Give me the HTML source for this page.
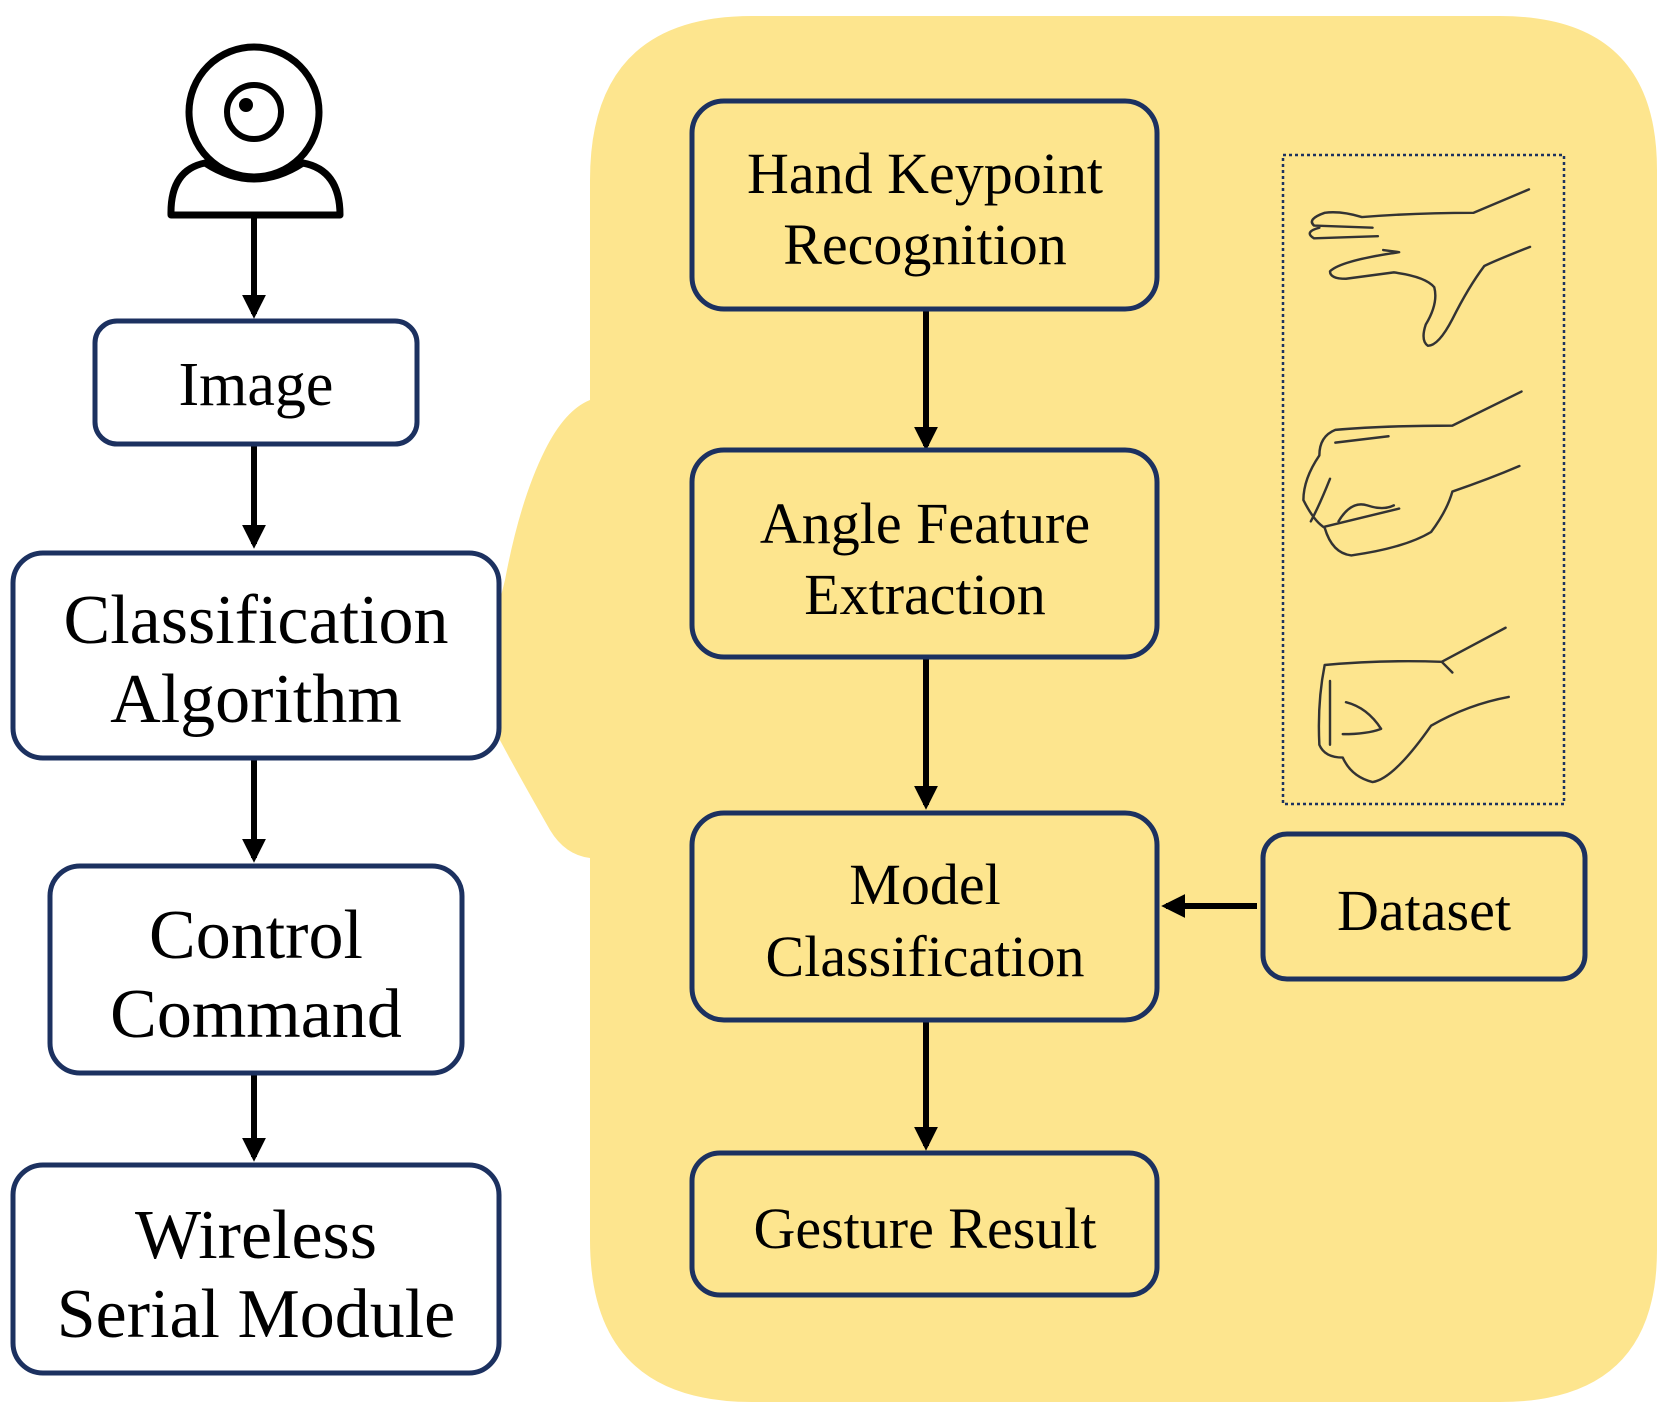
<!DOCTYPE html>
<html><head><style>
html,body{margin:0;padding:0;background:#fff;}
svg{display:block;}
text{font-family:"Liberation Serif",serif;fill:#000;text-anchor:middle;}
.b{fill:#fff;stroke:#1c3160;stroke-width:5;}
.y{fill:#fde58e;stroke:#1c3160;stroke-width:5;}
.a{stroke:#000;stroke-width:6;}
.h{fill:none;stroke:#333;stroke-width:2.3;stroke-linecap:round;stroke-linejoin:round;}
</style></head><body>
<svg width="1661" height="1419" viewBox="0 0 1661 1419" xmlns="http://www.w3.org/2000/svg">
<defs><marker id="m" viewBox="0 0 10 10" refX="8" refY="5" markerWidth="4" markerHeight="4" orient="auto"><path d="M0,0 L10,5 L0,10 z" fill="#000"/></marker></defs>
<path d="M752,16 L1500,16 Q1657,16 1657,170 L1657,1250 Q1657,1402 1500,1402 L752,1402 Q590,1402 590,1240 L590,858 Q565,855 550,830 Q510,760 492,725 Q480,700 479,683 Q490,640 505,580 Q520,500 545,450 Q565,410 590,400 L590,180 Q590,16 752,16 Z" fill="#fde58e"/>
<circle cx="254" cy="112" r="65" fill="#fff" stroke="#000" stroke-width="7"/>
<circle cx="254" cy="112" r="27" fill="#fff" stroke="#000" stroke-width="6"/>
<circle cx="246" cy="105" r="7" fill="#000"/>
<path d="M171,215 Q170,170 205,163 Q254,195 303,163 Q340,170 340,215 Z" fill="#fff" stroke="#000" stroke-width="7" stroke-linejoin="round"/>
<line class="a" x1="254" y1="215" x2="254" y2="314" marker-end="url(#m)"/>
<line class="a" x1="254" y1="444" x2="254" y2="544" marker-end="url(#m)"/>
<line class="a" x1="254" y1="758" x2="254" y2="858" marker-end="url(#m)"/>
<line class="a" x1="254" y1="1074" x2="254" y2="1157" marker-end="url(#m)"/>
<rect class="b" x="95" y="321" width="322" height="123" rx="22"/>
<text x="256" y="405" font-size="62">Image</text>
<rect class="b" x="13" y="553" width="486" height="205" rx="30"/>
<text x="256" y="643" font-size="70">Classification</text>
<text x="256" y="722" font-size="70">Algorithm</text>
<rect class="b" x="50" y="866" width="412" height="207" rx="30"/>
<text x="256" y="958" font-size="70">Control</text>
<text x="256" y="1037" font-size="70">Command</text>
<rect class="b" x="13" y="1165" width="486" height="208" rx="30"/>
<text x="256" y="1258" font-size="70">Wireless</text>
<text x="256" y="1337" font-size="70">Serial Module</text>
<line class="a" x1="926" y1="309" x2="926" y2="446" marker-end="url(#m)"/>
<line class="a" x1="926" y1="657" x2="926" y2="805" marker-end="url(#m)"/>
<line class="a" x1="926" y1="1020" x2="926" y2="1146" marker-end="url(#m)"/>
<line class="a" x1="1257" y1="906" x2="1166" y2="906" marker-end="url(#m)"/>
<rect class="y" x="692" y="101" width="465" height="208" rx="32"/>
<text x="925" y="193" font-size="58">Hand Keypoint</text>
<text x="925" y="264" font-size="58">Recognition</text>
<rect class="y" x="692" y="450" width="465" height="207" rx="32"/>
<text x="925" y="543" font-size="58">Angle Feature</text>
<text x="925" y="614" font-size="58">Extraction</text>
<rect class="y" x="692" y="813" width="465" height="207" rx="32"/>
<text x="925" y="904" font-size="58">Model</text>
<text x="925" y="976" font-size="58">Classification</text>
<rect class="y" x="692" y="1153" width="465" height="142" rx="28"/>
<text x="925" y="1248" font-size="58">Gesture Result</text>
<rect class="y" x="1263" y="834" width="322" height="145" rx="24"/>
<text x="1424" y="930" font-size="58">Dataset</text>
<rect x="1283" y="155" width="281" height="649" fill="none" stroke="#1c3160" stroke-width="2.5" stroke-dasharray="3,3"/>
<g transform="scale(1.064)">
<path class="h" d="M1437,178 L1385,200 Q1330,200 1280,204 Q1260,198 1245,200 Q1228,206 1235,212 L1290,214 M1240,214 Q1225,218 1235,224 L1295,222 M1438,232 Q1405,245 1395,250 Q1380,270 1365,300 Q1352,325 1342,325 Q1335,320 1340,305 Q1352,285 1348,270 Q1340,260 1310,256 L1265,262 Q1250,262 1250,255 Q1260,245 1315,237 L1300,235"/>
<path class="h" d="M1430,368 L1365,400 Q1300,400 1255,404 Q1240,410 1240,428 Q1225,450 1225,470 Q1235,490 1245,496 Q1252,520 1270,522 Q1320,515 1345,500 Q1360,480 1365,462 Q1400,450 1428,438 M1255,416 L1305,410 M1250,450 Q1240,475 1232,490 M1258,490 Q1270,470 1285,475 Q1300,480 1310,475 M1245,495 L1315,478"/>
<path class="h" d="M1415,590 L1355,622 Q1300,620 1245,625 Q1238,660 1240,700 Q1245,712 1262,712 Q1270,730 1290,735 Q1310,732 1345,682 Q1380,662 1418,655 M1250,640 L1250,700 M1265,660 Q1285,665 1298,685 Q1285,690 1262,690 M1355,622 L1365,632"/>
</g>
</svg>
</body></html>
